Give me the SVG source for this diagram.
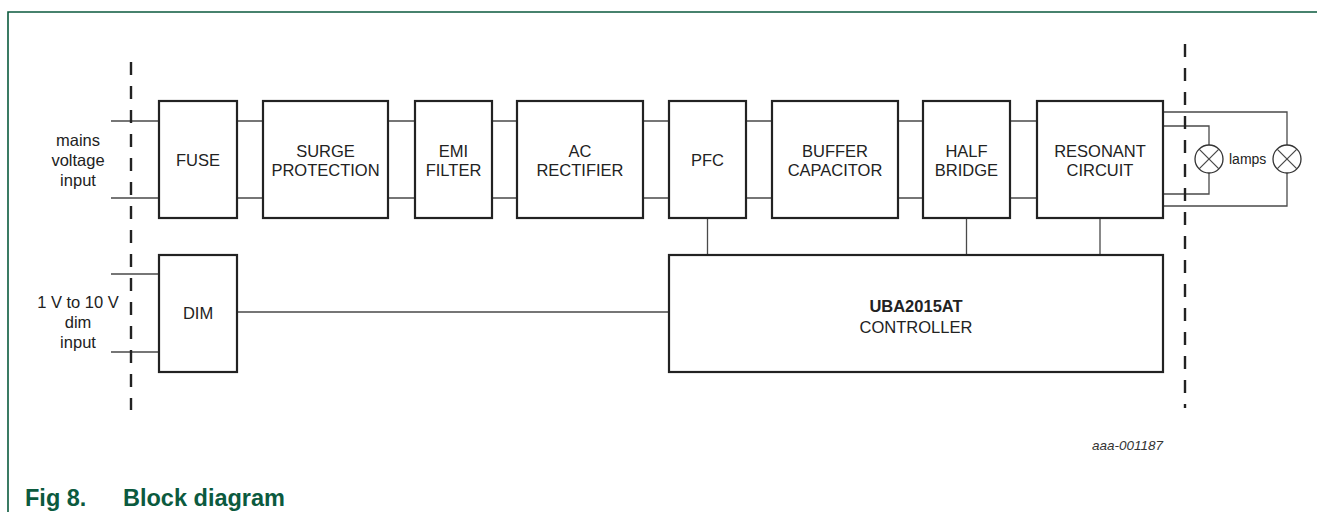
<svg xmlns="http://www.w3.org/2000/svg" width="1317" height="512" viewBox="0 0 1317 512">
<style>
.box{fill:#fff;stroke:#222;stroke-width:2.2}
.wire{fill:none;stroke:#4a4a4a;stroke-width:1.3}
.dash{fill:none;stroke:#222;stroke-width:2.4;stroke-dasharray:13 11}
.t{font-family:"Liberation Sans",Arial,sans-serif;font-size:16.5px;fill:#222;text-anchor:middle}
.b{font-weight:bold}
.lamp{fill:#fff;stroke:#333;stroke-width:1.3}
</style>
<rect x="0" y="0" width="1317" height="512" fill="#fff"/>
<path d="M8 512 V12 H1317" fill="none" stroke="#0b5a3e" stroke-width="1.6"/>
<g id="connectors">
<path class="wire" d="M111 121 H159 M111 198 H159 M237 121 H263 M237 198 H263 M388 121 H415 M388 198 H415 M492 121 H517 M492 198 H517 M643 121 H669 M643 198 H669 M746 121 H772 M746 198 H772 M898 121 H923 M898 198 H923 M1010 121 H1037 M1010 198 H1037"/>
<path class="wire" d="M1163 112 H1287 V206 H1163 M1163 126 H1209 V194 H1163"/>
<path class="wire" d="M707.5 218 V255 M966.5 218 V255 M1100 218 V255"/>
<path class="wire" d="M111 274 H159 M111 352 H159 M237 312 H669"/>
</g>
<g id="boundaries">
<line class="dash" x1="131" y1="62" x2="131" y2="410"/>
<line class="dash" x1="1185" y1="44" x2="1185" y2="408"/>
</g>
<g id="mains-label"><text class="t" x="78" y="146">mains</text><text class="t" x="78" y="166">voltage</text><text class="t" x="78" y="186">input</text></g>
<g id="dim-label"><text class="t" x="78" y="308">1 V to 10 V</text><text class="t" x="78" y="328">dim</text><text class="t" x="78" y="348">input</text></g>
<g id="fuse"><rect class="box" x="159" y="101" width="78" height="117"/><text class="t" x="198" y="166">FUSE</text></g>
<g id="surge"><rect class="box" x="263" y="101" width="125" height="117"/><text class="t" x="325.5" y="157">SURGE</text><text class="t" x="325.5" y="176">PROTECTION</text></g>
<g id="emi"><rect class="box" x="415" y="101" width="77" height="117"/><text class="t" x="453.5" y="157">EMI</text><text class="t" x="453.5" y="176">FILTER</text></g>
<g id="ac"><rect class="box" x="517" y="101" width="126" height="117"/><text class="t" x="580" y="157">AC</text><text class="t" x="580" y="176">RECTIFIER</text></g>
<g id="pfc"><rect class="box" x="669" y="101" width="77" height="117"/><text class="t" x="707.5" y="166">PFC</text></g>
<g id="buffer"><rect class="box" x="772" y="101" width="126" height="117"/><text class="t" x="835" y="157">BUFFER</text><text class="t" x="835" y="176">CAPACITOR</text></g>
<g id="halfbridge"><rect class="box" x="923" y="101" width="87" height="117"/><text class="t" x="966.5" y="157">HALF</text><text class="t" x="966.5" y="176">BRIDGE</text></g>
<g id="resonant"><rect class="box" x="1037" y="101" width="126" height="117"/><text class="t" x="1100" y="157">RESONANT</text><text class="t" x="1100" y="176">CIRCUIT</text></g>
<g id="lamps">
<circle class="lamp" cx="1209" cy="159" r="14"/>
<path class="wire" d="M1199.1 149.1 L1218.9 168.9 M1218.9 149.1 L1199.1 168.9"/>
<circle class="lamp" cx="1287" cy="159" r="14"/>
<path class="wire" d="M1277.1 149.1 L1296.9 168.9 M1296.9 149.1 L1277.1 168.9"/>
<text class="t" x="1229" y="164" style="font-size:14px;text-anchor:start">lamps</text>
</g>
<g id="dim"><rect class="box" x="159" y="255" width="78" height="117"/><text class="t" x="198" y="319">DIM</text></g>
<g id="controller"><rect class="box" x="669" y="255" width="494" height="117"/><text class="t b" x="916" y="312">UBA2015AT</text><text class="t" x="916" y="333">CONTROLLER</text></g>
<text x="1163" y="450" style="font-family:'Liberation Sans',Arial,sans-serif;font-size:13.5px;font-style:italic;fill:#333;text-anchor:end">aaa-001187</text>
<g id="caption" style="font-family:'Liberation Sans',Arial,sans-serif;font-size:23.5px;font-weight:bold;fill:#0b5a3e">
<text x="25" y="506">Fig 8.</text><text x="123" y="506">Block diagram</text>
</g>
</svg>
